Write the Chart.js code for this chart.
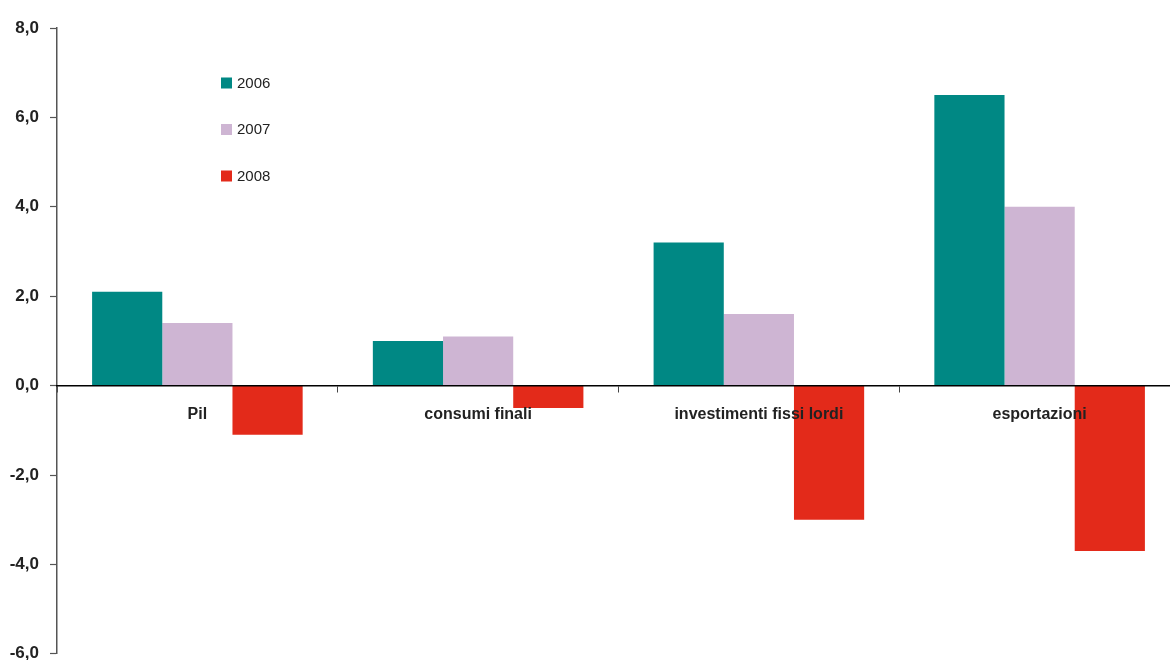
<!DOCTYPE html>
<html>
<head>
<meta charset="utf-8">
<script src="https://cdn.jsdelivr.net/npm/chart.js@4/dist/chart.umd.min.js"></script>
<style>
  html, body { margin: 0; padding: 0; background: #fff; overflow: hidden; }
  #wrap { width: 1170px; height: 660px; overflow: hidden; }
  canvas { display: block; }
</style>
</head>
<body>
<div id="wrap"><canvas id="c" width="1180" height="675"></canvas></div>
<script>
// Variazioni percentuali annue
const categories = ['Pil', 'consumi finali', 'investimenti fissi lordi', 'esportazioni'];
const yearLabels = ['2006', '2007', '2008'];
const values2006 = [2.1, 1.0, 3.2, 6.5];
const values2007 = [1.4, 1.1, 1.6, 4.0];
const values2008 = [-1.1, -0.5, -3.0, -3.7];
const yTicks = [-6, -4, -2, 0, 2, 4, 6, 8];

const colors = ['#008884', '#CEB5D3', '#E32A1A'];
const FONT = '"Liberation Sans", Arial, sans-serif';

// Vertical legend drawn inside the plot area
const sideLegend = {
  id: 'sideLegend',
  afterDraw(chart, args, opts) {
    const ctx = chart.ctx;
    ctx.save();
    ctx.font = '15px ' + FONT;
    ctx.textBaseline = 'middle';
    ctx.textAlign = 'left';
    chart.data.datasets.forEach((ds, i) => {
      const y = opts.top + i * opts.spacing;
      ctx.fillStyle = ds.backgroundColor;
      ctx.fillRect(opts.left, y - 5.5, 11, 11);
      ctx.fillStyle = '#222';
      ctx.fillText(ds.label, opts.left + 16, y + 0.5);
    });
    ctx.restore();
  }
};

new Chart(document.getElementById('c'), {
  type: 'bar',
  data: {
    labels: categories,
    datasets: [
      { label: yearLabels[0], data: values2006, backgroundColor: colors[0] },
      { label: yearLabels[1], data: values2007, backgroundColor: colors[1] },
      { label: yearLabels[2], data: values2008, backgroundColor: colors[2] }
    ]
  },
  options: {
    responsive: false,
    animation: false,
    layout: { padding: { top: 28, bottom: 7, left: 0, right: 0 } },
    datasets: { bar: { categoryPercentage: 0.75, barPercentage: 1.0, borderWidth: 0 } },
    plugins: {
      legend: { display: false },
      tooltip: { enabled: false },
      sideLegend: { left: 221, top: 83, spacing: 46.5 }
    },
    scales: {
      x: {
        type: 'category',
        position: { y: 0 },
        afterFit(scale) { scale.height = 0; },
        grid: { offset: true, drawOnChartArea: false, tickLength: 6, tickColor: '#444', tickWidth: 1 },
        border: { color: '#000', width: 1.5, z: 1 },
        ticks: {
          z: 1,
          autoSkip: false, maxRotation: 0, padding: 13,
          color: '#222',
          font: { family: FONT, size: 16, weight: 'bold' }
        }
      },
      y: {
        min: yTicks[0],
        max: yTicks[yTicks.length - 1],
        afterFit(scale) { scale.width = 57; },
        afterBuildTicks(scale) { scale.ticks = yTicks.map(v => ({ value: v })); },
        grid: { drawOnChartArea: false, tickLength: 7, tickColor: '#555', tickWidth: 1.2 },
        border: { color: '#555', width: 1.5 },
        ticks: {
          padding: 11,
          color: '#222',
          font: { family: FONT, size: 17, weight: 'bold' },
          callback: v => v.toFixed(1).replace('.', ',')
        }
      }
    }
  },
  plugins: [sideLegend]
});
</script>
</body>
</html>
